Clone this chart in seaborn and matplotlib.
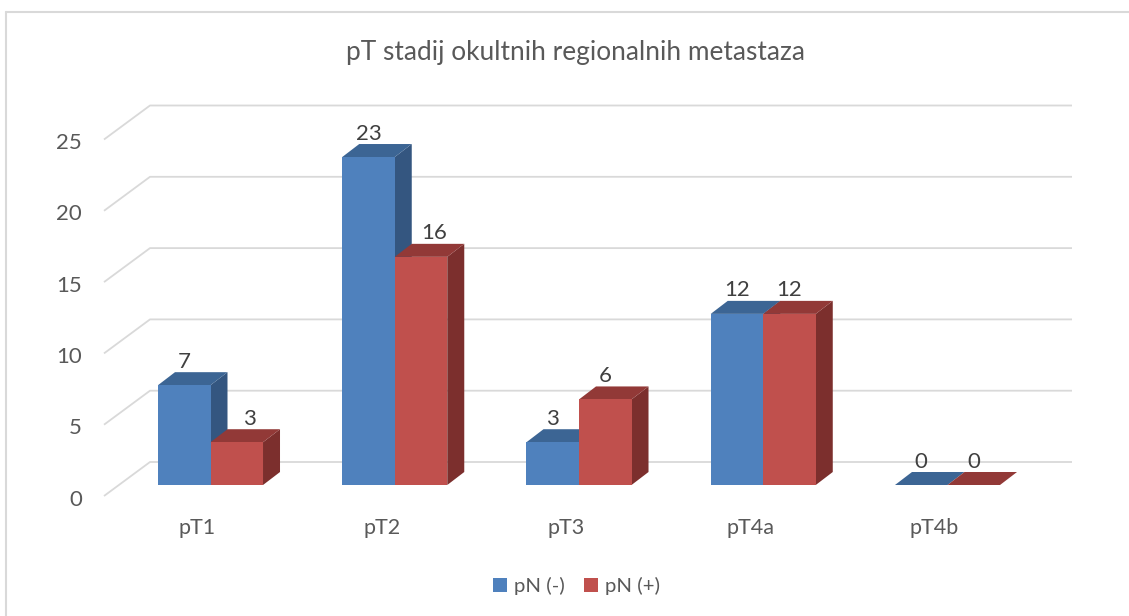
import numpy as np
import pandas as pd
import matplotlib
matplotlib.use("Agg")
import matplotlib.pyplot as plt
import seaborn as sns
from matplotlib.patches import Polygon, Patch
from matplotlib.lines import Line2D
from matplotlib.colors import to_rgb

# ---------------- data ----------------
title = "pT stadij okultnih regionalnih metastaza"
categories = ["pT1", "pT2", "pT3", "pT4a", "pT4b"]
series = ["pN (-)", "pN (+)"]
pn_neg = [7, 23, 3, 12, 0]
pn_pos = [3, 16, 6, 12, 0]
y_ticks = [0, 5, 10, 15, 20, 25]

# ---------------- style ----------------
front_colors = ["#4F81BD", "#C0504D"]
top_colors = ["#3C6594", "#923937"]
side_colors = ["#345680", "#7C2F2D"]
grid_color = "#D9D9D9"
text_grey = "#595959"
value_color = "#404040"

W, H = 1129, 616
CAT_PX, X0_PX, UNIT_PX, BASE_PX = 184.25, 210.5, 14.26, 485.0


def px2x(px):
    return (px - X0_PX) / CAT_PX


def px2y(py):
    return (BASE_PX - py) / UNIT_PX


DX = 17 / CAT_PX        # depth offset (x) of the 3D bars
DY = 13 / UNIT_PX       # depth offset (y) of the 3D bars

sns.set_theme(style="white")
plt.rcParams["font.family"] = ["Lato", "DejaVu Sans"]

df = pd.DataFrame({
    "category": categories * 2,
    "series": [series[0]] * len(categories) + [series[1]] * len(categories),
    "value": pn_neg + pn_pos,
})

fig = plt.figure(figsize=(W / 100, H / 100), dpi=100)
ax = fig.add_axes([0, 0, 1, 1])
sns.barplot(data=df, x="category", y="value", hue="series", order=categories,
            hue_order=series, palette=front_colors, width=0.57, gap=0,
            linewidth=0, saturation=1, errorbar=None, legend=False, ax=ax)

ax.set_xlim(px2x(0), px2x(W))
ax.set_ylim(px2y(H), px2y(0))
ax.axis("off")

# perspective gridlines (front-left diagonal, then back wall)
for v in y_ticks:
    ax.plot([px2x(104), px2x(150), px2x(1072)],
            [v + px2y(496), v + px2y(462), v + px2y(462)],
            color=grid_color, lw=1.3, zorder=1, solid_capstyle="butt")
    ax.text(px2x(82), v + px2y(496) - 9.5 / UNIT_PX, str(v), ha="right",
            va="baseline", fontsize=16, color=text_grey)


def series_of(patch):
    fc = np.array(patch.get_facecolor()[:3])
    d = [np.sum((fc - np.array(to_rgb(c))) ** 2) for c in front_colors]
    return int(np.argmin(d))


values = [pn_neg, pn_pos]
for p in list(ax.patches):
    s = series_of(p)
    x0, w, h = p.get_x(), p.get_width(), p.get_height()
    z = 4 + 2 * s
    p.set_zorder(z)
    top = Polygon([(x0, h), (x0 + w, h), (x0 + w + DX, h + DY), (x0 + DX, h + DY)],
                  closed=True, facecolor=top_colors[s], edgecolor="none", zorder=z - 0.5)
    side = Polygon([(x0 + w, 0), (x0 + w, h), (x0 + w + DX, h + DY), (x0 + w + DX, DY)],
                   closed=True, facecolor=side_colors[s], edgecolor="none", zorder=z - 0.5)
    ax.add_patch(side)
    ax.add_patch(top)
    # value label
    ci = int(round(x0 + w / 2 + (0.285 / 2 if s == 0 else -0.285 / 2)))
    shift = 0.0
    if s == 1 and values[0][ci] > values[1][ci]:
        shift = 13 / CAT_PX
    ax.text(x0 + w / 2 + shift, h + 17.5 / UNIT_PX, f"{h:g}", ha="center",
            va="baseline", fontsize=16, color=value_color, zorder=10)

for i, cat in enumerate(categories):
    ax.text(i - 13 / CAT_PX, px2y(534), cat, ha="center", va="baseline",
            fontsize=15.5, color=text_grey)

ax.text(px2x(575), px2y(60), title, ha="center", va="baseline",
        fontsize=18.9, color=text_grey)

handles = [Patch(facecolor=c, edgecolor="none") for c in front_colors]
ax.legend(handles, series, loc="center", bbox_to_anchor=(576.5 / W, 1 - 586 / H),
          ncol=2, frameon=False, fontsize=14.7, handlelength=0.69, handleheight=0.69,
          handletextpad=0.34, columnspacing=0.93, labelcolor=text_grey)

# chart border (top and left visible)
fig.add_artist(Line2D([6 / W, 6 / W], [0, 1 - 12 / H], transform=fig.transFigure,
                      color=grid_color, lw=1.5))
fig.add_artist(Line2D([6 / W, 1], [1 - 12 / H, 1 - 12 / H], transform=fig.transFigure,
                      color=grid_color, lw=1.5))

fig.savefig("out.png", dpi=100, facecolor="white")
